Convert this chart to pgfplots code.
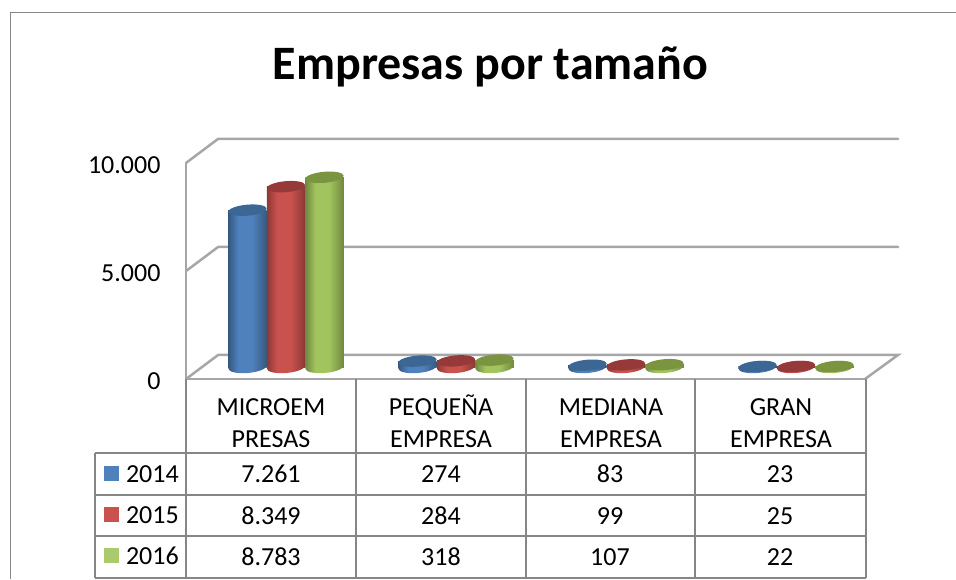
\documentclass[border=0pt]{standalone}
\usepackage{fontspec}
\setmainfont{Carlito}
\usepackage{pgfplots}
\usepackage{pgfplotstable}
\pgfplotsset{compat=1.18}
\definecolor{framegray}{HTML}{868686}
\definecolor{wallgray}{HTML}{A6A6A6}
\definecolor{tablegray}{HTML}{868686}
\definecolor{bluemain}{HTML}{4F81BD}\definecolor{bluedark}{HTML}{36587F}\definecolor{bluetop}{HTML}{3C6694}
\definecolor{redmain}{HTML}{C9514E}\definecolor{reddark}{HTML}{893936}\definecolor{redtop}{HTML}{953A38}
\definecolor{greenmain}{HTML}{A2C45E}\definecolor{greendark}{HTML}{6F883E}\definecolor{greentop}{HTML}{7A9440}
\pgfdeclarehorizontalshading[bluemain,bluedark]{cylblue}{100bp}{color(0bp)=(bluedark);color(25bp)=(bluedark);color(38bp)=(bluemain);color(56bp)=(bluemain);color(75bp)=(bluedark);color(100bp)=(bluedark)}
\pgfdeclarehorizontalshading[redmain,reddark]{cylred}{100bp}{color(0bp)=(reddark);color(25bp)=(reddark);color(38bp)=(redmain);color(56bp)=(redmain);color(75bp)=(reddark);color(100bp)=(reddark)}
\pgfdeclarehorizontalshading[greenmain,greendark]{cylgreen}{100bp}{color(0bp)=(greendark);color(25bp)=(greendark);color(38bp)=(greenmain);color(56bp)=(greenmain);color(75bp)=(greendark);color(100bp)=(greendark)}
\newcommand{\cylbottom}[1]{\pgfpathellipse{\pgfpointorigin}{\pgfpoint{19.13pt}{1.67pt}}{\pgfpoint{-0.52pt}{5.98pt}}\pgfshadepath{cyl#1}{0}\pgfusepath{discard}}
\newcommand{\cyltop}[1]{\pgfsetfillcolor{#1top}\pgfpathellipse{\pgfpointorigin}{\pgfpoint{19.13pt}{1.67pt}}{\pgfpoint{-0.48pt}{5.48pt}}\pgfusepath{fill}}
\pgfdeclareplotmark{botblue}{\cylbottom{blue}}
\pgfdeclareplotmark{botred}{\cylbottom{red}}
\pgfdeclareplotmark{botgreen}{\cylbottom{green}}
\pgfdeclareplotmark{topblue}{\cyltop{blue}}
\pgfdeclareplotmark{topred}{\cyltop{red}}
\pgfdeclareplotmark{topgreen}{\cyltop{green}}
\pgfplotstableread{
x y2014 y2015 y2016
0 7261 8349 8783
1 274 284 318
2 83 99 107
3 23 25 22
}\empresas
\newcommand{\cyl}[5]{% row, next row, column, colour name, offset in categories
  \addplot[forget plot,only marks,mark=bot#4,skip coords between index={0}{#1},skip coords between index={#2}{4}] table[x expr=\thisrow{x}+#5,y expr=0*\thisrow{#3}] {\empresas};
  \addplot[forget plot,ybar,bar width=38.5pt,bar shift=0pt,shading=cyl#4,draw=none,skip coords between index={0}{#1},skip coords between index={#2}{4}] table[x expr=\thisrow{x}+#5,y=#3] {\empresas};
  \addplot[forget plot,only marks,mark=top#4,skip coords between index={0}{#1},skip coords between index={#2}{4}] table[x expr=\thisrow{x}+#5,y=#3] {\empresas};
}
\begin{document}
\begin{tikzpicture}[x=1pt,y=1pt]
\path[use as bounding box] (0,0) rectangle (956,579);
\begin{scope}[y=-1pt,yshift=579pt]
  % outer frame
  \draw[framegray,line width=1.5pt] (10.5,579) -- (10.5,12.5) -- (956,12.5);
  % walls and floor
  \begin{scope}[wallgray,line width=2.5pt,line cap=round]
    \draw (186,163) -- (218,139) -- (898,139);
    \draw (186,271) -- (218,247) -- (898,247);
    \draw (186,379) -- (218,355) -- (898,355) -- (865,379);
  \end{scope}
\end{scope}
% front plane: value axis and category names
\begin{axis}[
  at={(186pt,200pt)},anchor=south west,scale only axis,width=680pt,height=216pt,
  xmin=-0.5,xmax=3.5,ymin=0,ymax=10000,
  axis x line*=bottom,axis y line*=left,
  axis line style={wallgray,line width=2.5pt,-},
  xtick={0,1,2,3},
  xticklabels={{MICROEM\\PRESAS},{PEQUEÑA\\EMPRESA},{MEDIANA\\EMPRESA},{GRAN\\EMPRESA}},
  typeset ticklabels with strut,
  x tick label style={align=center,font=\fontsize{26}{32}\selectfont,yshift=-11pt},
  ytick={0,5000,10000},
  y tick label style={font=\fontsize{26}{28}\selectfont,xshift=-22pt,yshift=-4.5pt},
  scaled y ticks=false,
  /pgf/number format/.cd,assume math mode=true,1000 sep={.},
  /pgfplots/.cd,
  tick style={draw=none},
]
\end{axis}
% cylinders
\begin{axis}[
  at={(201pt,212pt)},anchor=south west,scale only axis,width=680pt,height=216pt,
  xmin=-0.5,xmax=3.5,ymin=0,ymax=10000,
  axis lines=none,clip=false,
  legend style={draw=none,fill=none,at={(axis description cs:-0.1426,-0.4586)},anchor=north west,
    inner sep=0pt,outer sep=0pt,row sep=25pt,font=\fontsize{26}{26}\selectfont,
    nodes={inner sep=0pt,text height=16pt,text depth=0pt},
    /tikz/every even column/.style={column sep=0pt}},
  legend cell align=left,
  legend image code/.code={\fill[#1] (0pt,-7pt) rectangle (15pt,8pt);\path (22pt,0pt);},
]
\addlegendimage{fill=bluemain,draw=none}\addlegendentry{2014}
\addlegendimage{fill=redmain,draw=none}\addlegendentry{2015}
\addlegendimage{fill=greenmain!90!white,draw=none}\addlegendentry{2016}
\cyl{0}{1}{y2014}{blue}{(-0.2265)}\cyl{0}{1}{y2015}{red}{0}\cyl{0}{1}{y2016}{green}{0.2265}
\cyl{1}{2}{y2014}{blue}{(-0.2265)}\cyl{1}{2}{y2015}{red}{0}\cyl{1}{2}{y2016}{green}{0.2265}
\cyl{2}{3}{y2014}{blue}{(-0.2265)}\cyl{2}{3}{y2015}{red}{0}\cyl{2}{3}{y2016}{green}{0.2265}
\cyl{3}{4}{y2014}{blue}{(-0.2265)}\cyl{3}{4}{y2015}{red}{0}\cyl{3}{4}{y2016}{green}{0.2265}
\end{axis}
\begin{scope}[y=-1pt,yshift=579pt]
  \node[font=\fontsize{48}{52}\selectfont\bfseries] at (490.5,67) {Empresas por tamaño};
  % data table
  \begin{scope}[tablegray,line width=2pt]
    \draw (186,379) -- (186,578);
    \draw (356,379) -- (356,578);
    \draw (526,379) -- (526,578);
    \draw (695,379) -- (695,578);
    \draw (866,379) -- (866,578);
    \draw (95,453) -- (866,453);
    \draw (95,495) -- (866,495);
    \draw (95,536) -- (866,536);
    \draw (95,578) -- (866,578);
    \draw (95,453) -- (95,578);
  \end{scope}
  \begin{scope}[every node/.style={font=\fontsize{26}{28}\selectfont,inner sep=0pt}]
    \node at (271,474) {7.261}; \node at (441,474) {274}; \node at (610,474) {83};  \node at (780,474) {23};
    \node at (271,516) {8.349}; \node at (441,516) {284}; \node at (610,516) {99};  \node at (780,516) {25};
    \node at (271,557) {8.783}; \node at (441,557) {318}; \node at (610,557) {107}; \node at (780,557) {22};
  \end{scope}
\end{scope}
\end{tikzpicture}
\end{document}
